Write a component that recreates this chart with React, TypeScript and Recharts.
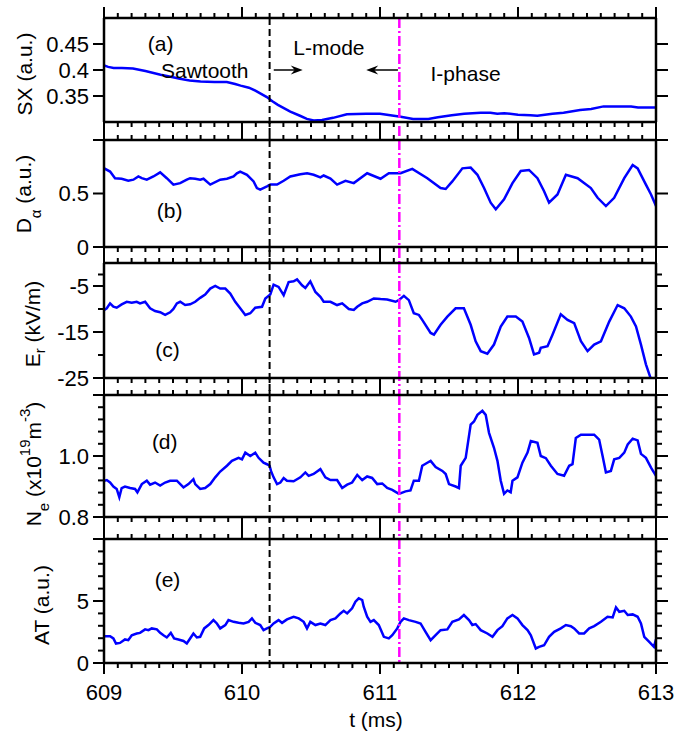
import React from 'react';
import { LineChart, Line, XAxis, YAxis, ReferenceLine, ReferenceDot } from 'recharts';

const W = 676;
const H = 737;
const FONT = '"Liberation Sans", Arial, Helvetica, sans-serif';
const BLUE = '#0000ff';
const MAGENTA = '#ff00ff';

// shared time axis (ms)
const timeDomain = [609, 613];
const timeTicks = [
  609, 609.1, 609.2, 609.3, 609.4, 609.5, 609.6, 609.7, 609.8, 609.9,
  610, 610.1, 610.2, 610.3, 610.4, 610.5, 610.6, 610.7, 610.8, 610.9,
  611, 611.1, 611.2, 611.3, 611.4, 611.5, 611.6, 611.7, 611.8, 611.9,
  612, 612.1, 612.2, 612.3, 612.4, 612.5, 612.6, 612.7, 612.8, 612.9, 613,
];

// event markers
const sawtoothEnd = 610.2;
const iPhaseStart = 611.14;

// (a) SX
const sxTime = [
  609.00, 609.03, 609.07, 609.13, 609.21, 609.30, 609.41, 609.50, 609.55, 609.62,
  609.70, 609.80, 609.89, 609.95, 609.99, 610.05, 610.10, 610.18, 610.22, 610.26,
  610.35, 610.42, 610.47, 610.52, 610.58, 610.66, 610.76, 610.90, 611.00, 611.10,
  611.15, 611.24, 611.35, 611.42, 611.52, 611.61, 611.73, 611.80, 611.85, 611.90,
  612.00, 612.09, 612.14, 612.25, 612.33, 612.45, 612.53, 612.62, 612.82, 612.87,
  613.00,
];
const sxValue = [
  0.409, 0.406, 0.404, 0.404, 0.403, 0.398, 0.391, 0.386, 0.383, 0.380,
  0.378, 0.377, 0.377, 0.373, 0.370, 0.366, 0.360, 0.348, 0.340, 0.333,
  0.320, 0.312, 0.306, 0.303, 0.304, 0.308, 0.315, 0.316, 0.316, 0.312,
  0.310, 0.306, 0.306, 0.309, 0.313, 0.316, 0.318, 0.318, 0.316, 0.317,
  0.314, 0.313, 0.312, 0.316, 0.318, 0.323, 0.325, 0.330, 0.330, 0.328,
  0.328,
];

// (b) D alpha
const daTime = [
  609.002, 609.044, 609.080, 609.128, 609.176, 609.213, 609.249, 609.274, 609.310, 609.358,
  609.407, 609.455, 609.503, 609.552, 609.600, 609.624, 609.661, 609.697, 609.721, 609.770,
  609.842, 609.891, 609.939, 609.963, 609.987, 610.036, 610.084, 610.108, 610.132, 610.181,
  610.205, 610.254, 610.302, 610.350, 610.423, 610.472, 610.519, 610.568, 610.592, 610.641,
  610.689, 610.750, 610.810, 610.907, 611.004, 611.064, 611.149, 611.234, 611.343, 611.439,
  611.476, 611.524, 611.597, 611.657, 611.706, 611.754, 611.802, 611.839, 611.899, 611.960,
  612.020, 612.080, 612.141, 612.189, 612.225, 612.286, 612.347, 612.432, 612.528, 612.577,
  612.637, 612.697, 612.770, 612.831, 612.867, 612.927, 612.964, 613.000,
];
const daValue = [
  0.735, 0.705, 0.643, 0.638, 0.619, 0.629, 0.659, 0.643, 0.629, 0.659,
  0.698, 0.643, 0.583, 0.597, 0.629, 0.643, 0.638, 0.629, 0.638, 0.583,
  0.629, 0.638, 0.659, 0.689, 0.705, 0.675, 0.613, 0.551, 0.537, 0.567,
  0.583, 0.583, 0.619, 0.659, 0.680, 0.689, 0.675, 0.650, 0.668, 0.640,
  0.583, 0.619, 0.597, 0.689, 0.638, 0.689, 0.689, 0.730, 0.643, 0.551,
  0.542, 0.613, 0.735, 0.742, 0.675, 0.551, 0.414, 0.353, 0.445, 0.597,
  0.711, 0.720, 0.643, 0.521, 0.414, 0.491, 0.675, 0.643, 0.551, 0.460,
  0.383, 0.460, 0.643, 0.766, 0.735, 0.583, 0.491, 0.383,
];

// (c) Er
const erTime = [
  609.002, 609.020, 609.044, 609.068, 609.092, 609.128, 609.165, 609.201, 609.237, 609.261,
  609.298, 609.334, 609.370, 609.407, 609.443, 609.479, 609.503, 609.528, 609.552, 609.588,
  609.624, 609.661, 609.697, 609.733, 609.770, 609.806, 609.842, 609.879, 609.915, 609.951,
  609.987, 610.024, 610.060, 610.096, 610.145, 610.169, 610.205, 610.229, 610.265, 610.302,
  610.338, 610.374, 610.399, 610.435, 610.459, 610.495, 610.532, 610.568, 610.592, 610.641,
  610.689, 610.726, 610.774, 610.810, 610.835, 610.871, 610.907, 610.955, 611.004, 611.052,
  611.113, 611.136, 611.173, 611.209, 611.245, 611.282, 611.306, 611.367, 611.391, 611.439,
  611.488, 611.548, 611.608, 611.657, 611.693, 611.730, 611.778, 611.826, 611.875, 611.923,
  611.984, 612.032, 612.080, 612.116, 612.153, 612.165, 612.214, 612.250, 612.310, 612.359,
  612.407, 612.456, 612.504, 612.552, 612.601, 612.661, 612.722, 612.770, 612.818, 612.855,
  612.891, 612.927, 612.959, 612.975,
];
const erValue = [
  -10.21, -9.85, -8.78, -9.51, -9.72, -8.99, -8.43, -8.65, -8.43, -8.78,
  -8.43, -9.85, -10.43, -10.71, -11.29, -10.71, -10.00, -8.78, -8.43, -9.14,
  -8.99, -8.43, -7.58, -6.85, -5.56, -5.00, -5.56, -5.56, -6.63, -8.43,
  -9.85, -11.29, -10.92, -9.72, -9.51, -7.70, -6.85, -4.70, -5.21, -7.00,
  -4.14, -3.99, -3.56, -4.85, -5.43, -3.99, -6.29, -7.36, -8.43, -8.43,
  -9.14, -8.78, -10.00, -10.21, -9.51, -8.78, -8.43, -7.70, -7.85, -7.92,
  -8.43, -8.07, -7.15, -8.07, -10.92, -11.29, -12.36, -15.21, -15.58, -13.43,
  -11.65, -9.85, -9.85, -13.43, -17.02, -19.16, -19.72, -17.73, -13.80, -11.65,
  -11.65, -12.73, -16.29, -19.87, -19.51, -18.43, -18.09, -15.58, -11.14, -12.36,
  -13.07, -17.02, -19.16, -17.73, -17.02, -12.73, -9.14, -9.85, -11.65, -13.80,
  -17.73, -22.02, -24.87, -26.0,
];

// (d) Ne
const neTime = [
  609.002, 609.020, 609.044, 609.068, 609.092, 609.111, 609.128, 609.152, 609.189, 609.225,
  609.242, 609.274, 609.310, 609.334, 609.370, 609.407, 609.443, 609.479, 609.528, 609.576,
  609.612, 609.648, 609.661, 609.697, 609.733, 609.770, 609.806, 609.842, 609.891, 609.927,
  609.975, 610.000, 610.024, 610.060, 610.096, 610.120, 610.156, 610.181, 610.200, 610.210,
  610.229, 610.254, 610.278, 610.302, 610.326, 610.374, 610.423, 610.459, 610.483, 610.519,
  610.568, 610.604, 610.641, 610.689, 610.726, 610.762, 610.798, 610.835, 610.871, 610.907,
  610.943, 610.980, 611.016, 611.052, 611.089, 611.137, 611.185, 611.221, 611.245, 611.282,
  611.306, 611.343, 611.367, 611.403, 611.452, 611.476, 611.500, 611.548, 611.572, 611.585,
  611.621, 611.657, 611.681, 611.706, 611.742, 611.766, 611.790, 611.826, 611.851, 611.875,
  611.899, 611.923, 611.947, 611.960, 611.996, 612.032, 612.069, 612.093, 612.141, 612.165,
  612.202, 612.238, 612.286, 612.334, 612.371, 612.395, 612.419, 612.456, 612.504, 612.552,
  612.588, 612.613, 612.637, 612.673, 612.697, 612.734, 612.770, 612.795, 612.831, 612.867,
  612.891, 612.927, 612.964, 613.000,
];
const neValue = [
  0.919, 0.921, 0.913, 0.900, 0.892, 0.865, 0.895, 0.900, 0.895, 0.892,
  0.881, 0.908, 0.919, 0.906, 0.913, 0.903, 0.913, 0.919, 0.919, 0.897,
  0.908, 0.924, 0.908, 0.892, 0.895, 0.908, 0.930, 0.949, 0.968, 0.984,
  0.994, 0.989, 1.011, 1.000, 1.011, 0.994, 0.978, 0.973, 0.968, 0.951,
  0.930, 0.908, 0.913, 0.928, 0.919, 0.917, 0.930, 0.946, 0.935, 0.941,
  0.957, 0.930, 0.921, 0.921, 0.895, 0.906, 0.913, 0.938, 0.921, 0.933,
  0.928, 0.908, 0.910, 0.895, 0.889, 0.876, 0.884, 0.887, 0.919, 0.919,
  0.968, 0.978, 0.984, 0.964, 0.951, 0.941, 0.908, 0.900, 0.895, 0.968,
  0.994, 1.103, 1.113, 1.135, 1.148, 1.135, 1.076, 1.027, 0.984, 0.919,
  0.876, 0.887, 0.881, 0.919, 0.930, 0.978, 1.011, 1.049, 1.043, 1.000,
  0.993, 0.968, 0.941, 0.935, 0.968, 0.973, 1.059, 1.070, 1.070, 1.070,
  1.054, 1.000, 0.946, 0.951, 0.989, 0.994, 1.011, 1.038, 1.057, 1.051,
  1.007, 0.994, 0.962, 0.935,
];

// (e) AT
const atTime = [
  609.002, 609.044, 609.068, 609.087, 609.116, 609.152, 609.176, 609.201, 609.237, 609.261,
  609.298, 609.322, 609.346, 609.383, 609.407, 609.431, 609.455, 609.484, 609.508, 609.539,
  609.576, 609.600, 609.624, 609.648, 609.673, 609.697, 609.726, 609.757, 609.793, 609.818,
  609.842, 609.879, 609.902, 609.939, 609.975, 610.011, 610.048, 610.072, 610.096, 610.132,
  610.156, 610.181, 610.205, 610.229, 610.265, 610.290, 610.326, 610.374, 610.411, 610.447,
  610.471, 610.495, 610.532, 610.568, 610.604, 610.641, 610.677, 610.713, 610.737, 610.762,
  610.798, 610.822, 610.846, 610.871, 610.882, 610.907, 610.931, 610.955, 610.991, 611.028,
  611.064, 611.089, 611.125, 611.149, 611.173, 611.209, 611.258, 611.294, 611.330, 611.367,
  611.403, 611.439, 611.488, 611.524, 611.572, 611.608, 611.645, 611.669, 611.693, 611.730,
  611.778, 611.815, 611.851, 611.887, 611.923, 611.960, 611.996, 612.032, 612.069, 612.093,
  612.129, 612.153, 612.189, 612.225, 612.262, 612.310, 612.347, 612.383, 612.407, 612.443,
  612.479, 612.516, 612.552, 612.601, 612.649, 612.686, 612.710, 612.734, 612.770, 612.795,
  612.831, 612.867, 612.891, 612.915, 612.951, 612.985, 613.000,
];
const atValue = [
  2.16, 2.16, 1.98, 1.57, 1.62, 1.90, 1.84, 2.24, 2.38, 2.43,
  2.71, 2.65, 2.79, 2.71, 2.43, 2.24, 2.06, 2.43, 1.98, 1.90,
  1.78, 1.57, 1.98, 2.38, 2.06, 2.11, 2.79, 3.06, 3.46, 3.19,
  2.79, 3.06, 3.46, 3.32, 3.24, 3.19, 3.32, 3.60, 3.24, 3.06,
  2.65, 2.79, 2.92, 3.19, 3.46, 3.24, 3.52, 3.73, 3.60, 3.32,
  2.79, 3.32, 3.06, 3.19, 3.06, 3.46, 3.60, 4.00, 4.21, 4.00,
  4.41, 4.94, 5.22, 5.08, 4.54, 3.73, 3.32, 3.46, 3.06, 2.11,
  1.98, 2.24, 2.79, 3.32, 3.60, 3.46, 3.32, 3.19, 2.51, 1.84,
  2.24, 2.65, 2.71, 3.32, 3.52, 3.87, 3.46, 3.06, 3.14, 2.65,
  2.38, 2.11, 2.65, 2.97, 3.60, 3.87, 3.60, 3.06, 2.65, 2.24,
  1.17, 1.30, 1.43, 2.11, 2.51, 2.79, 3.06, 2.97, 2.79, 2.38,
  2.38, 2.79, 2.97, 3.32, 3.73, 3.68, 4.49, 4.13, 4.21, 3.87,
  3.92, 3.73, 3.19, 2.11, 1.70, 1.30, 1.90,
];

// annotations in panel (a)
const noteText = ['Sawtooth', 'L-mode', 'I-phase'];
const noteTime = [609.73, 610.63, 611.62];
const noteValue = [0.399, 0.4437, 0.3925];
const arrowFrom = [610.23, 611.13];
const arrowTo = [610.44, 610.90];
const arrowLevel = 0.4;

type TitlePart = { s: string; dy?: number; small?: boolean };

interface PanelDef {
  time: number[];
  values: number[];
  domain: [number, number];
  major: number[];
  minor: number[];
  fmt: (v: number) => string;
  top: number;
  bottom: number;
  next: number;
  tag: string;
  tagT: number;
  tagV: number;
  title: TitlePart[];
  titleX: number;
  titleY: number;
}

const panels: PanelDef[] = [
  {
    time: sxTime, values: sxValue, domain: [0.3, 0.5],
    major: [0.35, 0.4, 0.45], minor: [], fmt: (v) => String(v),
    top: 18, bottom: 122, next: 140,
    tag: '(a)', tagT: 609.41, tagV: 0.4515,
    title: [{ s: 'SX (a.u.)' }], titleX: 32, titleY: 74,
  },
  {
    time: daTime, values: daValue, domain: [0, 1],
    major: [0, 0.5, 1], minor: [], fmt: (v) => String(v),
    top: 140, bottom: 247, next: 263,
    tag: '(b)', tagT: 609.475, tagV: 0.337,
    title: [{ s: 'D' }, { s: 'α', dy: 10, small: true }, { s: ' (a.u.)', dy: -10 }],
    titleX: 31, titleY: 194,
  },
  {
    time: erTime, values: erValue, domain: [-25, 0],
    major: [-25, -15, -5], minor: [-20, -10, -2.5], fmt: (v) => String(v),
    top: 263, bottom: 378, next: 395,
    tag: '(c)', tagT: 609.46, tagV: -18.8,
    title: [{ s: 'E' }, { s: 'r', dy: 5, small: true }, { s: ' (kV/m)', dy: -5 }],
    titleX: 40, titleY: 324,
  },
  {
    time: neTime, values: neValue, domain: [0.8, 1.2],
    major: [0.8, 1.0, 1.2], minor: [0.84, 0.88, 0.92, 0.96, 1.04, 1.08, 1.12, 1.16],
    fmt: (v) => v.toFixed(1),
    top: 395, bottom: 517, next: 539,
    tag: '(d)', tagT: 609.44, tagV: 1.049,
    title: [
      { s: 'N' }, { s: 'e', dy: 8, small: true }, { s: ' (x10', dy: -8 },
      { s: '19', dy: -11, small: true }, { s: 'm', dy: 11 },
      { s: '-3', dy: -11, small: true }, { s: ')', dy: 11 },
    ],
    titleX: 41, titleY: 464,
  },
  {
    time: atTime, values: atValue, domain: [0, 10],
    major: [0, 5, 10], minor: [1, 2, 3, 4, 6, 7, 8, 9], fmt: (v) => String(v),
    top: 539, bottom: 663, next: 663,
    tag: '(e)', tagT: 609.46, tagV: 6.7,
    title: [{ s: 'AT (a.u.)' }], titleX: 49, titleY: 605,
  },
];

const axisLine = { stroke: '#000', strokeWidth: 2.5 };
// axes need a non-zero size to be drawn; 1px each, taken out of the margins
const AX = 1;

function yTick(tp: any, side: 'left' | 'right', p: PanelDef) {
  const { x, y, payload } = tp;
  const v = payload.value as number;
  const major = p.major.includes(v);
  const dir = side === 'left' ? -1 : 1;
  const len = major ? (side === 'left' ? 11 : 12) : 6;
  const showLabel = side === 'left' && major && v !== p.domain[1];
  return (
    <g>
      <line x1={x} x2={x + dir * len} y1={y} y2={y} stroke="#000" strokeWidth={2} />
      {showLabel && (
        <text x={x - 15} y={y} dy="0.36em" textAnchor="end" fontSize={22} fill="#000">
          {p.fmt(v)}
        </text>
      )}
    </g>
  );
}

// time ticks: short stubs outside the frame, above and below, placed by the x scale
function timeTickShape(lp: any, v: number, withLabel: boolean) {
  const x = lp.x1;
  const yTop = Math.min(lp.y1, lp.y2);
  const yBot = Math.max(lp.y1, lp.y2);
  const major = Number.isInteger(v);
  const len = major ? 11 : 5;
  return (
    <g>
      <line x1={x} x2={x} y1={yTop} y2={yTop - len} stroke="#000" strokeWidth={2} />
      <line x1={x} x2={x} y1={yBot} y2={yBot + len} stroke="#000" strokeWidth={2} />
      {withLabel && major && (
        <text x={x} y={yBot + 37} textAnchor="middle" fontSize={22} fill="#000">{v}</text>
      )}
    </g>
  );
}

// vertical event marker, carried on through the gap below the panel
function markerShape(lp: any, ext: number, color: string, dash: string, width: number) {
  const y1 = Math.min(lp.y1, lp.y2);
  const y2 = Math.max(lp.y1, lp.y2) + ext;
  return <line x1={lp.x1} x2={lp.x1} y1={y1} y2={y2} stroke={color} strokeWidth={width} strokeDasharray={dash} />;
}

function arrowShape(lp: any) {
  const d = Math.sign(lp.x2 - lp.x1);
  const { x2, y2 } = lp;
  return (
    <g>
      <line x1={lp.x1} y1={lp.y1} x2={x2 - d * 6} y2={y2} stroke="#000" strokeWidth={1.5} />
      <polygon
        points={`${x2},${y2} ${x2 - d * 12},${y2 - 4.5} ${x2 - d * 8},${y2} ${x2 - d * 12},${y2 + 4.5}`}
        fill="#000"
      />
    </g>
  );
}

function Panel({ p, first, last }: { p: PanelDef; first: boolean; last: boolean }) {
  const data = p.time.map((t, i) => ({ t, v: p.values[i] }));
  const yTicks = [...p.major, ...p.minor].sort((a, b) => a - b);
  const ext = p.next - p.bottom;

  const title = () => (
    <text
      transform={`translate(${p.titleX},${p.titleY}) rotate(-90)`}
      textAnchor="middle"
      fontSize={21}
      fill="#000"
    >
      {p.title.map((part, i) => (
        <tspan key={i} dy={part.dy ?? 0} fontSize={part.small ? 15 : 21}>{part.s}</tspan>
      ))}
    </text>
  );

  const timeLabel = (lp: any) => {
    const vb = lp && lp.viewBox ? lp.viewBox : { x: 104, y: 663, width: 552 };
    return (
      <text x={vb.x + vb.width / 2 - 4} y={vb.y + 64} textAnchor="middle" fontSize={21} fill="#000">
        t (ms)
      </text>
    );
  };

  return (
    <div style={{ position: 'absolute', left: 0, top: 0 }}>
      <LineChart
        width={W}
        height={H}
        data={data}
        margin={{ top: p.top - AX, right: 20 - AX, bottom: H - p.bottom - AX, left: 104 - AX }}
      >
        <XAxis
          xAxisId="b"
          dataKey="t"
          type="number"
          orientation="bottom"
          domain={timeDomain}
          allowDataOverflow
          ticks={timeTicks}
          interval={0}
          height={AX}
          tickLine={false}
          tick={false}
          axisLine={axisLine}
          label={last ? timeLabel : undefined}
        />
        <XAxis
          xAxisId="t"
          type="number"
          orientation="top"
          domain={timeDomain}
          allowDataOverflow
          ticks={timeTicks}
          interval={0}
          height={AX}
          tickLine={false}
          tick={false}
          axisLine={axisLine}
        />
        <YAxis
          yAxisId="l"
          type="number"
          orientation="left"
          domain={p.domain}
          allowDataOverflow
          ticks={yTicks}
          interval={0}
          width={AX}
          tickSize={0}
          tickMargin={0}
          tickLine={false}
          axisLine={axisLine}
          tick={(tp: any) => yTick(tp, 'left', p)}
          label={title}
        />
        <YAxis
          yAxisId="r"
          type="number"
          orientation="right"
          domain={p.domain}
          allowDataOverflow
          ticks={yTicks}
          interval={0}
          width={AX}
          tickSize={0}
          tickMargin={0}
          tickLine={false}
          axisLine={axisLine}
          tick={(tp: any) => yTick(tp, 'right', p)}
        />
        {timeTicks.map((v) => (
          <ReferenceLine
            key={`tick-${v}`}
            xAxisId="b"
            yAxisId="l"
            x={v}
            ifOverflow="visible"
            shape={(lp: any) => timeTickShape(lp, v, last)}
          />
        ))}
        <Line
          xAxisId="b"
          yAxisId="l"
          dataKey="v"
          type="linear"
          stroke={BLUE}
          strokeWidth={2.5}
          dot={false}
          activeDot={false}
          isAnimationActive={false}
        />
        <ReferenceLine
          xAxisId="b"
          yAxisId="l"
          x={sawtoothEnd}
          ifOverflow="visible"
          shape={(lp: any) => markerShape(lp, ext, '#000', '7 4', 2)}
        />
        <ReferenceLine
          xAxisId="b"
          yAxisId="l"
          x={iPhaseStart}
          ifOverflow="visible"
          shape={(lp: any) => markerShape(lp, ext, MAGENTA, '10 3 2 3', 2.5)}
        />
        <ReferenceDot
          xAxisId="b"
          yAxisId="l"
          x={p.tagT}
          y={p.tagV}
          r={0}
          fill="none"
          stroke="none"
          ifOverflow="visible"
          label={{ value: p.tag, position: 'center', fill: '#000', fontSize: 21 }}
        />
        {first &&
          noteText.map((txt, i) => (
            <ReferenceDot
              key={txt}
              xAxisId="b"
              yAxisId="l"
              x={noteTime[i]}
              y={noteValue[i]}
              r={0}
              fill="none"
              stroke="none"
              ifOverflow="visible"
              label={{ value: txt, position: 'center', fill: '#000', fontSize: 21 }}
            />
          ))}
        {first &&
          arrowFrom.map((from, i) => (
            <ReferenceLine
              key={`arrow-${i}`}
              xAxisId="b"
              yAxisId="l"
              segment={[{ x: from, y: arrowLevel }, { x: arrowTo[i], y: arrowLevel }]}
              ifOverflow="visible"
              shape={arrowShape}
            />
          ))}
      </LineChart>
    </div>
  );
}

export default function App() {
  return (
    <div
      style={{
        position: 'absolute',
        left: 0,
        top: 0,
        width: W,
        height: H,
        background: '#fff',
        fontFamily: FONT,
      }}
    >
      {panels.map((p, i) => (
        <Panel key={p.tag} p={p} first={i === 0} last={i === panels.length - 1} />
      ))}
    </div>
  );
}
